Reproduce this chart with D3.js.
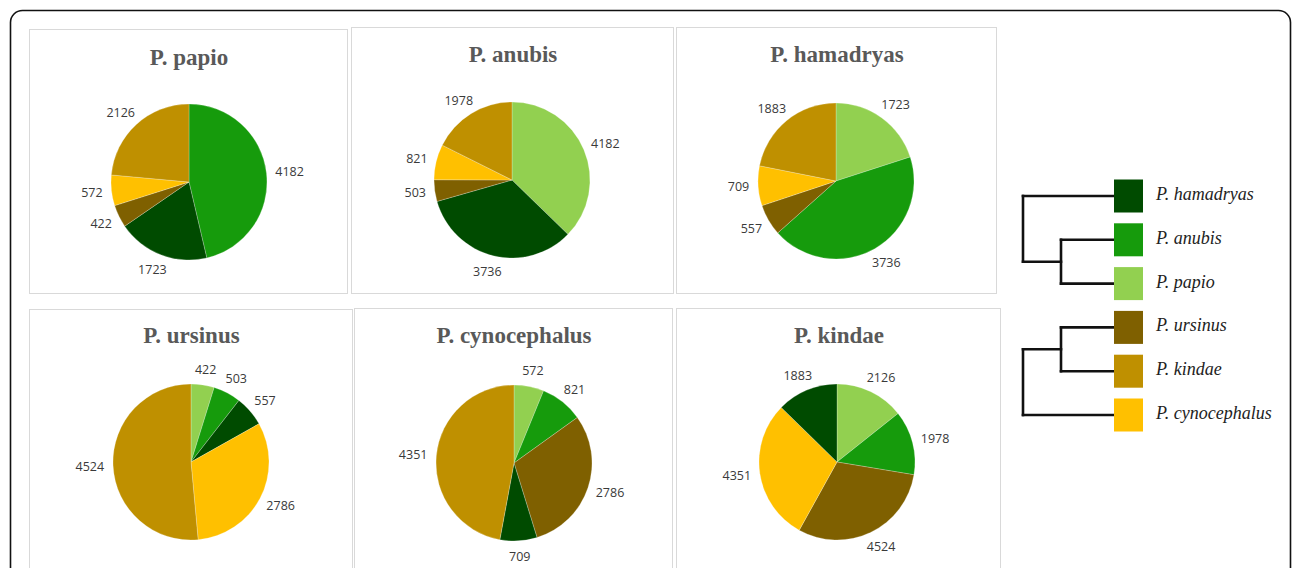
<!DOCTYPE html>
<html>
<head>
<meta charset="utf-8">
<script src="https://cdn.jsdelivr.net/npm/d3@7"></script>
<style>
  html, body { margin: 0; padding: 0; background: #fff; }
  svg { display: block; }
</style>
</head>
<body>
<svg id="chart" width="1292" height="568"></svg>
<script>
// ---------------- DATA ----------------
const speciesKeys   = ["hamadryas", "anubis", "papio", "ursinus", "kindae", "cynocephalus"];
const speciesNames  = ["P. hamadryas", "P. anubis", "P. papio", "P. ursinus", "P. kindae", "P. cynocephalus"];
const speciesColors = ["#004b00", "#169b0c", "#92d050", "#7f6000", "#bf9000", "#ffc000"];

const panelTitles = ["P. papio", "P. anubis", "P. hamadryas", "P. ursinus", "P. cynocephalus", "P. kindae"];

// slice order (clockwise from 12 o'clock) for each panel
const sliceSpecies = [
  ["anubis", "hamadryas", "ursinus", "cynocephalus", "kindae"],
  ["papio", "hamadryas", "ursinus", "cynocephalus", "kindae"],
  ["papio", "anubis", "ursinus", "cynocephalus", "kindae"],
  ["papio", "anubis", "hamadryas", "cynocephalus", "kindae"],
  ["papio", "anubis", "ursinus", "hamadryas", "kindae"],
  ["papio", "anubis", "ursinus", "cynocephalus", "hamadryas"]
];
const sliceValues = [
  [4182, 1723, 422, 572, 2126],
  [4182, 3736, 503, 821, 1978],
  [1723, 3736, 557, 709, 1883],
  [422, 503, 557, 2786, 4524],
  [572, 821, 2786, 709, 4351],
  [2126, 1978, 4524, 4351, 1883]
];

// dendrogram: two clades, nested arrays of leaf keys
const cladeTop    = ["hamadryas", ["anubis", "papio"]];
const cladeBottom = [["ursinus", "kindae"], "cynocephalus"];

// ---------------- LAYOUT ----------------
const svg = d3.select("#chart");
const color = d3.scaleOrdinal().domain(speciesKeys).range(speciesColors);

// outer frame
svg.append("rect")
  .attr("x", 10.5).attr("y", 10.5)
  .attr("width", 1280).attr("height", 620)
  .attr("rx", 12).attr("ry", 12)
  .attr("fill", "none").attr("stroke", "#111").attr("stroke-width", 1.6);

const panels = [
  {x0: 29,  x1: 347,  y0: 29,  y1: 293, cx: 189, cy: 182, ty: 65},
  {x0: 351, x1: 673,  y0: 27,  y1: 293, cx: 512, cy: 180, ty: 62},
  {x0: 676, x1: 996,  y0: 27,  y1: 293, cx: 836, cy: 181, ty: 62},
  {x0: 29,  x1: 352,  y0: 309, y1: 600, cx: 191, cy: 462, ty: 343},
  {x0: 354, x1: 672,  y0: 308, y1: 600, cx: 514, cy: 463, ty: 343},
  {x0: 676, x1: 1000, y0: 308, y1: 600, cx: 837, cy: 462, ty: 343}
];
const R = 78;

const pie = d3.pie().sort(null).value(d => d.value);
const arc = d3.arc().innerRadius(0).outerRadius(R);

panels.forEach((p, i) => {
  const g = svg.append("g");
  g.append("rect")
    .attr("x", p.x0 + 0.5).attr("y", p.y0 + 0.5)
    .attr("width", p.x1 - p.x0).attr("height", p.y1 - p.y0)
    .attr("fill", "#fff").attr("stroke", "#d9d9d9").attr("stroke-width", 1);

  g.append("text")
    .attr("x", (p.x0 + p.x1) / 2 + 1).attr("y", p.ty)
    .attr("text-anchor", "middle")
    .attr("font-family", "'Liberation Serif', 'Times New Roman', serif")
    .attr("font-weight", "bold")
    .attr("font-size", 23)
    .attr("fill", "#595959")
    .text(panelTitles[i]);

  const data = sliceSpecies[i].map((k, j) => ({key: k, value: sliceValues[i][j]}));
  const arcs = pie(data);
  const pg = g.append("g").attr("transform", `translate(${p.cx},${p.cy})`);
  pg.selectAll("path").data(arcs).join("path")
    .attr("d", arc)
    .attr("fill", d => color(d.data.key))
    .attr("stroke", "#fff").attr("stroke-width", 0.4).attr("stroke-opacity", 0.6);

  const gap = 9;
  pg.selectAll("text.lbl").data(arcs).join("text")
    .attr("class", "lbl")
    .attr("font-family", "'Open Sans', 'Noto Sans', sans-serif")
    .attr("font-size", 12.5)
    .attr("fill", "#3a3a3a")
    .attr("text-anchor", "middle")
    .attr("dominant-baseline", "central")
    .text(d => d.data.value)
    .each(function(d) {
      const th = (d.startAngle + d.endAngle) / 2;
      const w = this.getComputedTextLength(), h = 14;
      const s = Math.sin(th), c = Math.cos(th);
      const px = (R + gap) * s, py = -(R + gap) * c;
      d3.select(this).attr("x", px + s * w / 2).attr("y", py - c * h / 2);
    });
});

// ---------------- DENDROGRAM / LEGEND ----------------
const leafY = d3.scalePoint().domain(speciesKeys).range([196, 415]);
const depthX = d3.scaleLinear().domain([0, 1, 2]).range([1023, 1061, 1114]);
const boxW = 29, boxH = 33;
const dg = svg.append("g")
  .attr("stroke", "#111").attr("stroke-width", 2.6).attr("fill", "none")
  .attr("stroke-linecap", "square");

function drawClade(node, depth) {
  if (typeof node === "string") return leafY(node);
  const x = depthX(depth);
  const ys = node.map(child => {
    const y = drawClade(child, depth + 1);
    const xEnd = (typeof child === "string") ? depthX(2) : depthX(depth + 1);
    dg.append("line").attr("x1", x).attr("x2", xEnd).attr("y1", y).attr("y2", y);
    return y;
  });
  dg.append("line").attr("x1", x).attr("x2", x)
    .attr("y1", d3.min(ys)).attr("y2", d3.max(ys));
  return d3.mean(ys);
}
drawClade(cladeTop, 0);
drawClade(cladeBottom, 0);

const lg = svg.append("g");
speciesKeys.forEach((k, i) => {
  const y = leafY(k);
  lg.append("rect")
    .attr("x", depthX(2)).attr("y", y - boxH / 2)
    .attr("width", boxW).attr("height", boxH)
    .attr("fill", speciesColors[i]);
  lg.append("text")
    .attr("x", depthX(2) + boxW + 13).attr("y", y + 4)
    .attr("font-family", "'Liberation Serif', 'Times New Roman', serif")
    .attr("font-style", "italic")
    .attr("font-size", 18)
    .attr("fill", "#222")
    .text(speciesNames[i]);
});
</script>
</body>
</html>
